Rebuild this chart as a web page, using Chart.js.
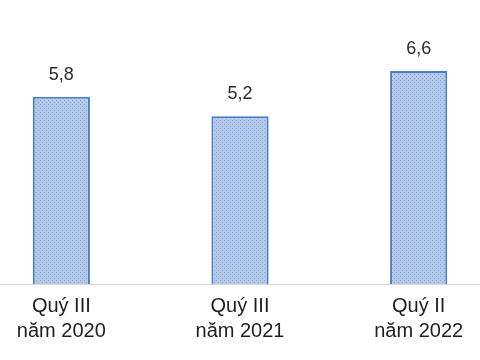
<!DOCTYPE html>
<html>
<head>
<meta charset="utf-8">
<script src="https://cdn.jsdelivr.net/npm/chart.js@4"></script>
<style>
  html, body { margin: 0; padding: 0; background: #fff; overflow: hidden; }
  #wrap { position: absolute; left: -28px; top: 0; width: 536px; height: 360px; }
</style>
</head>
<body>
<div id="wrap"><canvas id="chart"></canvas></div>
<script>
// dữ liệu
const categories = [['Quý III', 'năm 2020'], ['Quý III', 'năm 2021'], ['Quý II', 'năm 2022']];
const values = [5.8, 5.2, 6.6];
const valueLabels = ['5,8', '5,2', '6,6'];

// nền chấm cho cột
function makePattern() {
    const c = document.createElement('canvas');
    c.width = 4; c.height = 4;
    const g = c.getContext('2d');
    g.fillStyle = '#b3c9ea';
    g.fillRect(0, 0, 4, 4);
    g.fillStyle = '#86a8dc';
    g.fillRect(0, 0, 1, 1);
    g.fillRect(2, 2, 1, 1);
    return g.createPattern(c, 'repeat');
}

const valueLabelPlugin = {
    id: 'valueLabels',
    afterDatasetsDraw(chart) {
        const ctx = chart.ctx;
        const meta = chart.getDatasetMeta(0);
        ctx.save();
        ctx.font = '18px "Liberation Sans", Arial, sans-serif';
        ctx.fillStyle = '#2b2b2b';
        ctx.textAlign = 'center';
        ctx.textBaseline = 'middle';
        meta.data.forEach((bar, i) => {
            ctx.fillText(valueLabels[i], bar.x, bar.y - 22);
        });
        ctx.restore();
    }
};

const ctx = document.getElementById('chart').getContext('2d');
new Chart(ctx, {
    type: 'bar',
    data: {
        labels: categories,
        datasets: [{
            data: values,
            backgroundColor: makePattern(),
            borderColor: '#4a7cbf',
            borderWidth: 2,
            borderSkipped: 'bottom',
            categoryPercentage: 1,
            barPercentage: 0.32
        }]
    },
    options: {
        responsive: true,
        maintainAspectRatio: false,
        animation: false,
        layout: { padding: { top: 0, bottom: 6, left: 0, right: 0 } },
        plugins: { legend: { display: false }, tooltip: { enabled: false } },
        scales: {
            x: {
                grid: { display: false, drawTicks: false },
                border: { display: true, color: '#d9d9d9', width: 1 },
                ticks: {
                    color: '#1f1f1f',
                    padding: 10,
                    maxRotation: 0,
                    font: { family: '"Liberation Sans", Arial, sans-serif', size: 20, lineHeight: 1.25 }
                }
            },
            y: {
                display: false,
                min: 0,
                max: 8.8
            }
        }
    },
    plugins: [valueLabelPlugin]
});
</script>
</body>
</html>
